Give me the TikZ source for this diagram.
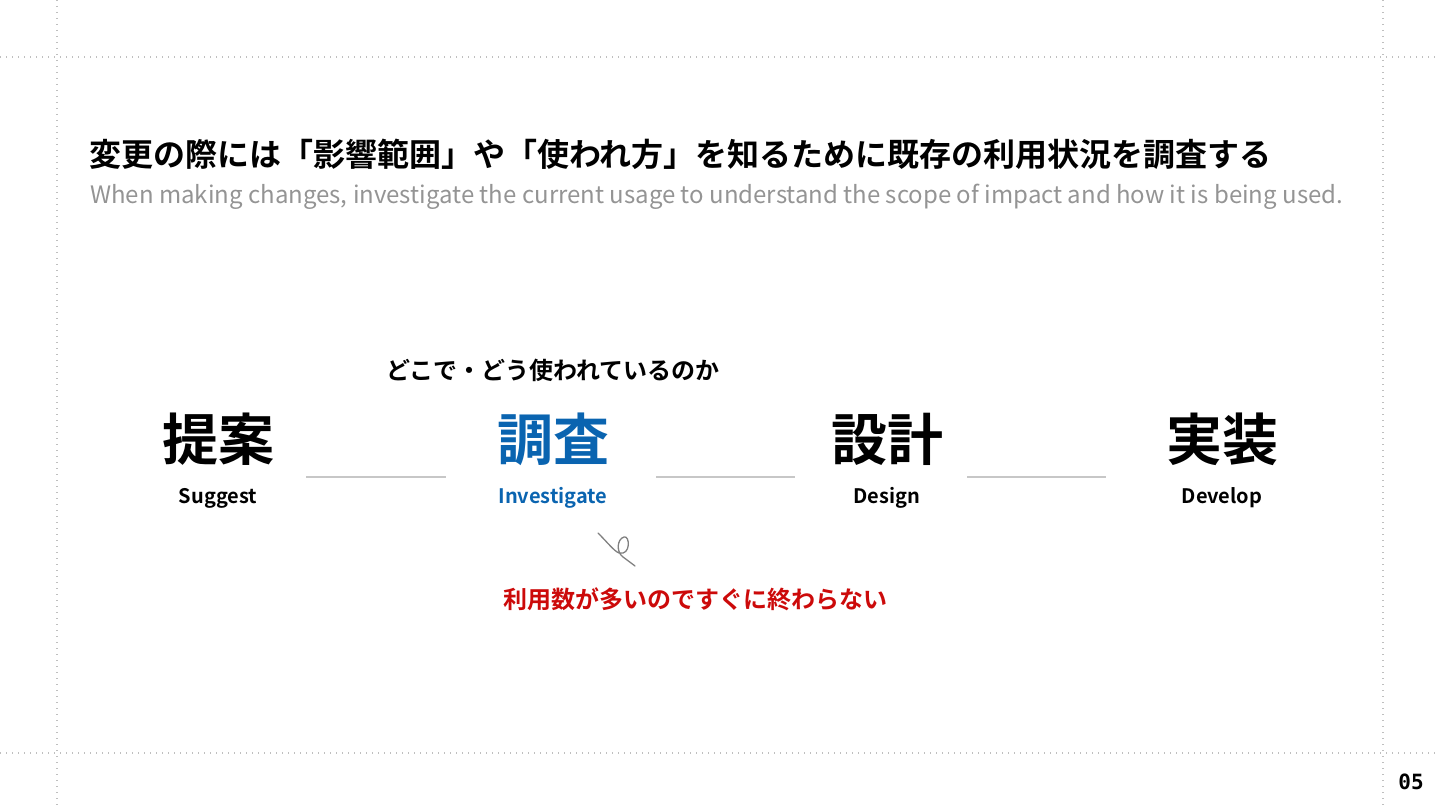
\documentclass[tikz,border=0pt]{standalone}
\usepackage{fontspec}
\setmainfont{Noto Sans CJK JP}[BoldFont={Noto Sans CJK JP Bold}]
\newfontfamily\monofont{DejaVu Sans Mono}
\usepackage{xcolor}
\usetikzlibrary{positioning}
\definecolor{azul}{HTML}{0A64B0}
\definecolor{vermelho}{HTML}{CC0A0A}
\definecolor{cinza}{HTML}{949494}
\tikzset{
	grade/.style={draw=black!25, line width=1.2pt, dash pattern=on 1.2pt off 4.8pt},
	etapa/.style={font=\bfseries\fontsize{56}{60}\selectfont, inner sep=0pt},
	rotulo/.style={font=\bfseries\fontsize{20}{24}\selectfont, inner sep=0pt},
	traco/.style={draw=black!22, line width=1.3pt}
}
\begin{document}
\begin{tikzpicture}[x=1pt, y=-1pt]
			\useasboundingbox (0,0) rectangle (1440,810);
			
			% grade pontilhada
			\draw[grade] (57,0)--(57,810);
			\draw[grade] (1383,0)--(1383,810);
			\draw[grade] (0,57)--(1440,57);
			\draw[grade] (0,753)--(1440,753);
			
			% titulo
			\node[anchor=west, inner sep=0pt, font=\bfseries\fontsize{32}{36}\selectfont] (titulo) at (89,154)
			{変更の際には「影響範囲」や「使われ方」を知るために既存の利用状況を調査する};
			\node[anchor=west, inner sep=0pt, text=cinza, font=\fontsize{24}{28}\selectfont] (subtitulo) at (90,197)
			{When making changes, investigate the current usage to understand the scope of impact and how it is being used.};
			
			% etapas
			\node[etapa] (proposta) at (218,439) {提案};
			\node[etapa, text=azul] (pesquisa) at (553,439) {調査};
			\node[etapa] (projeto) at (887,439) {設計};
			\node[etapa] (implem) at (1222,439) {実装};
			
			\node[rotulo] (suggest) at (218,498) {Suggest};
			\node[rotulo, text=azul] (investigate) at (553,498) {Investigate};
			\node[rotulo] (design) at (887,498) {Design};
			\node[rotulo] (develop) at (1222,498) {Develop};
			
			% tracos entre etapas
			\coordinate (a1) at (306,477); \coordinate (b1) at (446,477);
			\coordinate (a2) at (656,477); \coordinate (b2) at (795,477);
			\coordinate (a3) at (967,477); \coordinate (b3) at (1106,477);
			\draw[traco] (a1)--(b1);
			\draw[traco] (a2)--(b2);
			\draw[traco] (a3)--(b3);
			
			% notas
			\node[inner sep=0pt, font=\bfseries\fontsize{24}{28}\selectfont] (onde) at (553,370) {どこで・どう使われているのか};
			\node[inner sep=0pt, text=vermelho, font=\bfseries\fontsize{24}{28}\selectfont] (problema) at (695,599) {利用数が多いのですぐに終わらない};
			
			% rabisco
			\draw[black!50, line width=1.3pt, line cap=round] (598,533) .. controls (608,543) and (614,551) .. (619,553)
			.. controls (631,556) and (630,535) .. (624,537)
			.. controls (617,539) and (616,552) .. (623,557)
			.. controls (627,560) and (631,563) .. (635,566);
			
			% pagina
			\node[inner sep=0pt, font=\monofont\bfseries\fontsize{21}{24}\selectfont] (pagina) at (1411,782) {05};
\end{tikzpicture}
\end{document}
